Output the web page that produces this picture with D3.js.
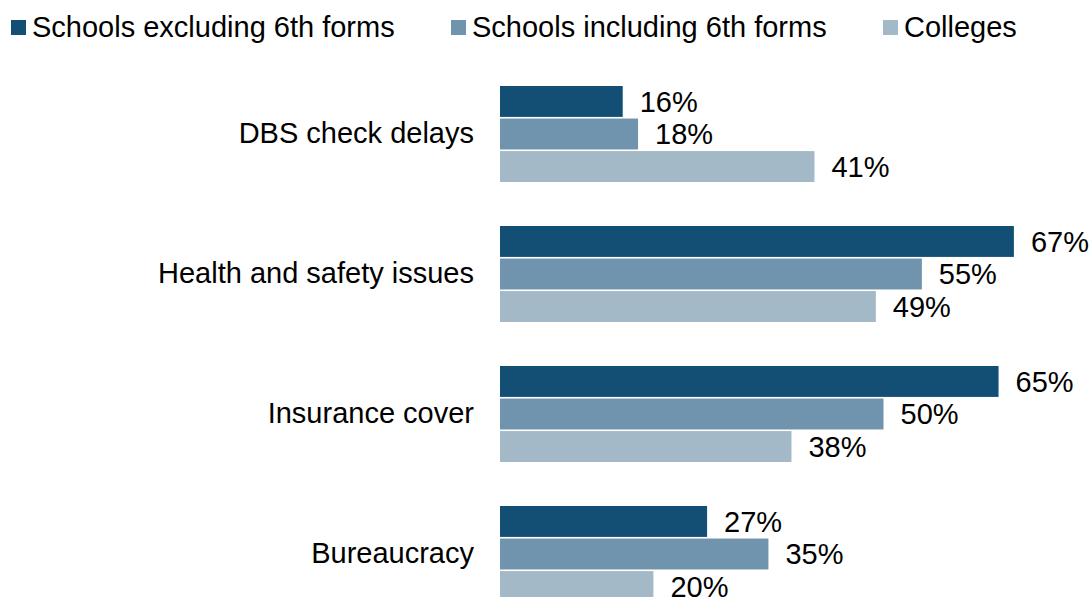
<!DOCTYPE html>
<html>
<head>
<meta charset="utf-8">
<script src="https://cdn.jsdelivr.net/npm/d3@7"></script>
<style>
  body { margin: 0; background: #fff; }
  text { font-family: "Liberation Sans", Arial, sans-serif; fill: #000; }
</style>
</head>
<body>
<svg id="chart" width="1091" height="597"></svg>
<script>
// categories and series
var categories = ["DBS check delays", "Health and safety issues", "Insurance cover", "Bureaucracy"];
var seriesNames = ["Schools excluding 6th forms", "Schools including 6th forms", "Colleges"];
var schoolsExcl = [16, 67, 65, 27];
var schoolsIncl = [18, 55, 50, 35];
var colleges = [41, 49, 38, 20];

var colors = ["#134f74", "#7094ad", "#a3b9c8"];

var svg = d3.select("#chart");
var fontSize = 29;

// scales
var x = d3.scaleLinear().domain([0, 100]).range([500, 1267]);
var y0 = d3.scaleBand().domain(categories).range([86, 602]).paddingInner(44 / 140).paddingOuter(0);
var y1 = d3.scaleBand().domain(seriesNames).range([0, 96]).paddingInner(0.05);

var rows = categories.map(function (c, i) {
    return {cat: c, vals: [schoolsExcl[i], schoolsIncl[i], colleges[i]]};
});

var groups = svg.selectAll("g.group")
    .data(rows)
    .enter().append("g")
    .attr("class", "group")
    .attr("transform", d => "translate(0," + y0(d.cat) + ")");

groups.append("text")
    .attr("x", 474)
    .attr("y", 47)
    .attr("dy", "0.35em")
    .attr("text-anchor", "end")
    .style("font-size", fontSize + "px")
    .text(d => d.cat);

var bars = groups.selectAll("g.bar")
    .data(d => d.vals.map((v, j) => ({v: v, s: seriesNames[j], j: j})))
    .enter().append("g")
    .attr("class", "bar");

bars.append("rect")
    .attr("x", x(0))
    .attr("y", d => y1(d.s))
    .attr("width", d => x(d.v) - x(0))
    .attr("height", y1.bandwidth())
    .attr("fill", d => colors[d.j]);

bars.append("text")
    .attr("x", d => x(d.v) + 17)
    .attr("y", d => y1(d.s) + y1.bandwidth() / 2)
    .attr("dy", "0.36em")
    .style("font-size", fontSize + "px")
    .text(d => d.v + "%");

// legend
var legendX = [11, 451, 883];
var legend = svg.selectAll("g.legend")
    .data(seriesNames)
    .enter().append("g")
    .attr("class", "legend")
    .attr("transform", (d, i) => "translate(" + legendX[i] + ",0)");

legend.append("rect")
    .attr("x", 0)
    .attr("y", 20)
    .attr("width", 15)
    .attr("height", 15)
    .attr("fill", (d, i) => colors[i]);

legend.append("text")
    .attr("x", 21)
    .attr("y", 37)
    .style("font-size", fontSize + "px")
    .text(d => d);
</script>
</body>
</html>
